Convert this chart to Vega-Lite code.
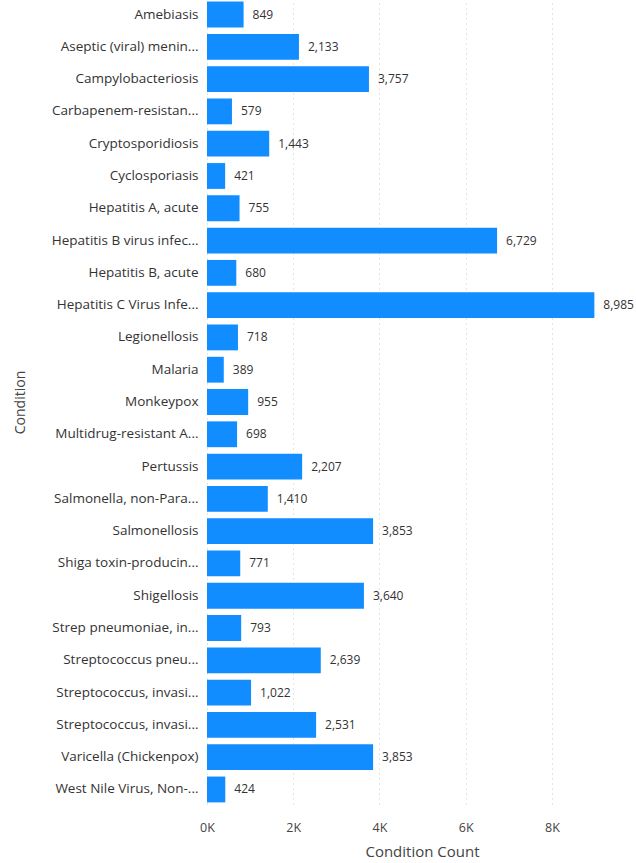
{
  "$schema": "https://vega.github.io/schema/vega-lite/v6.json",
  "autosize": "none",
  "width": 388,
  "height": 804,
  "padding": {"left": 207, "top": 0, "right": 41, "bottom": 59},
  "background": "white",
  "config": {"view": {"stroke": null}, "font": "Open Sans"},
  "data": {
    "values": [
      {"Condition": "Amebiasis", "Count": 849},
      {"Condition": "Aseptic (viral) menin...", "Count": 2133},
      {"Condition": "Campylobacteriosis", "Count": 3757},
      {"Condition": "Carbapenem-resistan...", "Count": 579},
      {"Condition": "Cryptosporidiosis", "Count": 1443},
      {"Condition": "Cyclosporiasis", "Count": 421},
      {"Condition": "Hepatitis A, acute", "Count": 755},
      {"Condition": "Hepatitis B virus infec...", "Count": 6729},
      {"Condition": "Hepatitis B, acute", "Count": 680},
      {"Condition": "Hepatitis C Virus Infe...", "Count": 8985},
      {"Condition": "Legionellosis", "Count": 718},
      {"Condition": "Malaria", "Count": 389},
      {"Condition": "Monkeypox", "Count": 955},
      {"Condition": "Multidrug-resistant A...", "Count": 698},
      {"Condition": "Pertussis", "Count": 2207},
      {"Condition": "Salmonella, non-Para...", "Count": 1410},
      {"Condition": "Salmonellosis", "Count": 3853},
      {"Condition": "Shiga toxin-producin...", "Count": 771},
      {"Condition": "Shigellosis", "Count": 3640},
      {"Condition": "Strep pneumoniae, in...", "Count": 793},
      {"Condition": "Streptococcus pneu...", "Count": 2639},
      {"Condition": "Streptococcus, invasi...", "Count": 1022},
      {"Condition": "Streptococcus, invasi...\u200b", "Count": 2531},
      {"Condition": "Varicella (Chickenpox)", "Count": 3853},
      {"Condition": "West Nile Virus, Non-...", "Count": 424}
    ]
  },
  "encoding": {
    "y": {
      "field": "Condition",
      "type": "nominal",
      "sort": null,
      "scale": {"paddingInner": 0.2, "paddingOuter": 0.05},
      "axis": {
        "title": "Condition",
        "titleFontSize": 14,
        "titleFontWeight": "normal",
        "titleColor": "#444444",
        "titleX": -187,
        "titleY": 402,
        "titleAngle": -90,
        "titleBaseline": "middle",
        "labelFontSize": 13.5,
        "labelColor": "#333333",
        "labelPadding": 9,
        "labelLimit": 200,
        "ticks": false,
        "domain": false
      }
    },
    "x": {
      "field": "Count",
      "type": "quantitative",
      "scale": {"domain": [0, 9000], "nice": false},
      "axis": {
        "title": "Condition Count",
        "titleFontSize": 15,
        "titleFontWeight": "normal",
        "titleColor": "#444444",
        "titleX": 215,
        "titleY": 47,
        "titleBaseline": "middle",
        "values": [0, 2000, 4000, 6000, 8000],
        "labelExpr": "datum.value / 1000 + 'K'",
        "labelFlush": false,
        "labelFontSize": 12.5,
        "labelColor": "#444444",
        "labelPadding": 17,
        "ticks": false,
        "domain": false,
        "grid": true,
        "gridColor": "#C8C8C8",
        "gridDash": [1, 4],
        "gridWidth": 1
      }
    }
  },
  "layer": [
    {"mark": {"type": "bar", "color": "#118DFF"}},
    {
      "mark": {"type": "text", "align": "left", "baseline": "middle", "dx": 9, "fontSize": 12, "color": "#333333"},
      "encoding": {"text": {"field": "Count", "type": "quantitative", "format": ","}}
    }
  ]
}
